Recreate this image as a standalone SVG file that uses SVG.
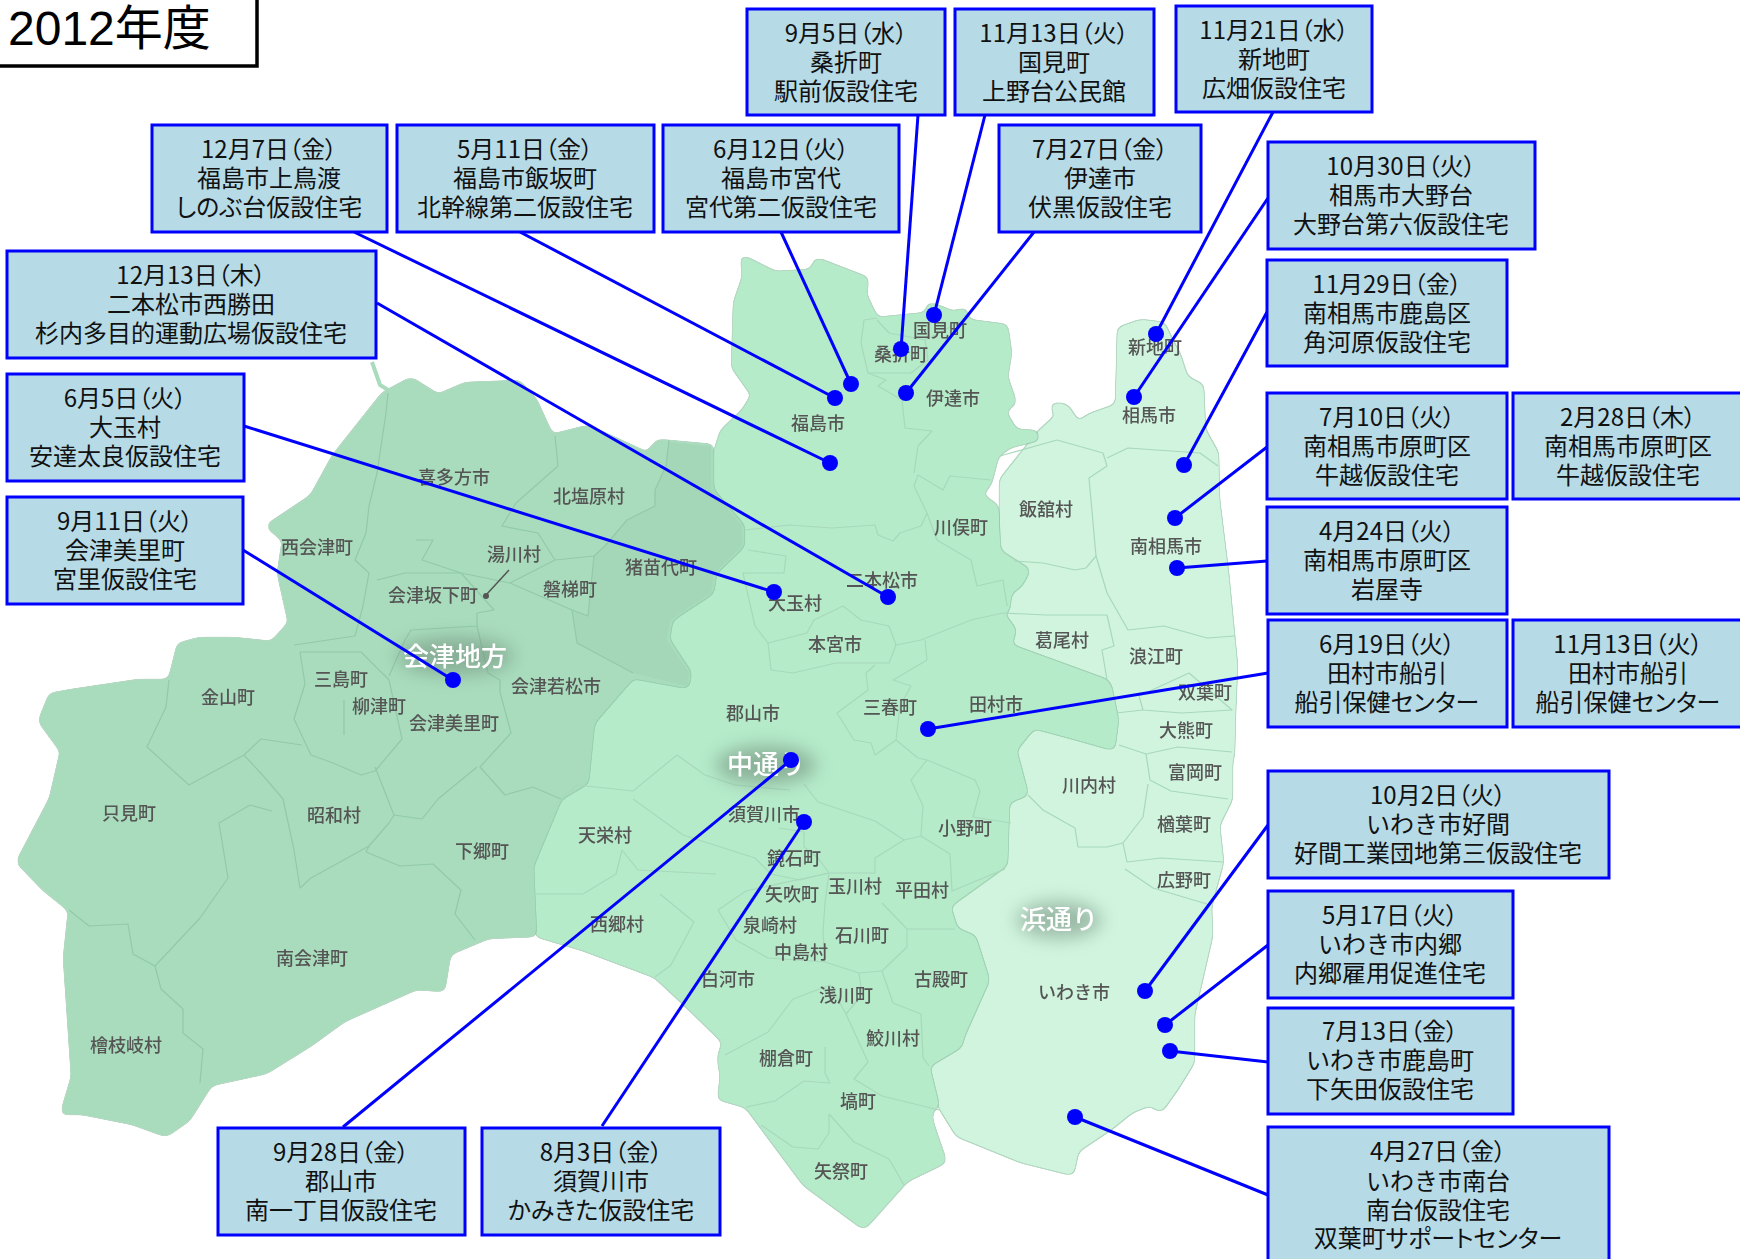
<svg xmlns="http://www.w3.org/2000/svg" width="1740" height="1259" viewBox="0 0 1740 1259">
<style>
text{font-family:"Noto Sans CJK JP","Noto Sans",sans-serif}
.b{fill:#b6dbe7;stroke:#0000ff;stroke-width:3}
.t{font-size:24px;fill:#111;text-anchor:middle}
.d{font-feature-settings:"palt"}
.m{font-size:18px;fill:#555;text-anchor:middle;font-weight:500}
.r{font-size:26px;fill:#fff;text-anchor:middle;font-weight:500}
.i{fill:none;stroke:#92c9a9;stroke-width:1.2;stroke-linejoin:round}
.j{fill:none;stroke:#a8d8bb;stroke-width:1.2;stroke-linejoin:round}
.c{stroke:#0000ff;stroke-width:3;fill:none}
.p{fill:#0000ff}
</style>
<defs>
<filter id="soft" x="-2%" y="-2%" width="104%" height="104%"><feGaussianBlur stdDeviation="0.6"/></filter>
<filter id="glow" x="-40%" y="-80%" width="180%" height="260%"><feGaussianBlur stdDeviation="9"/></filter>
<filter id="goo" x="-3%" y="-3%" width="106%" height="106%" color-interpolation-filters="sRGB">
<feGaussianBlur in="SourceGraphic" stdDeviation="3.5" result="bl"/>
<feColorMatrix in="bl" type="matrix" values="1 0 0 0 0 0 1 0 0 0 0 0 1 0 0 0 0 0 16 -7" result="g"/>
<feMorphology in="g" operator="dilate" radius="1" result="dil"/>
<feFlood flood-color="#8cc4a2" flood-opacity=".65"/>
<feComposite in2="dil" operator="in" result="edge"/>
<feMerge><feMergeNode in="edge"/><feMergeNode in="g"/></feMerge>
</filter>
</defs>
<rect width="1740" height="1259" fill="#fff"/>
<g id="map" filter="url(#soft)">
<polygon id="hamadori" filter="url(#goo)" fill="#d0f4de" points="1039,431 1056,416 1050,405 1059,403 1068,406 1078,422 1090,414 1116,405 1118,328 1141,320 1164,323 1172,340 1180,355 1187,377 1203,385 1205,430 1218,453 1219,500 1228,573 1237,666 1235,713 1234,753 1232,762 1232,799 1219,825 1223,862 1211,906 1212,936 1194,1014 1194,1062 1178,1088 1161,1112 1150,1105 1132,1112 1111,1129 1078,1151 1073,1175 1021,1162 957,1136 939,1107 929,1066 950,900 1000,800 1000,600 1000,480"/>
<polygon id="nakadori" filter="url(#goo)" fill="#b5ebc9" points="711,463 721,431 743,410 752,395 732,367 734,303 743,277 741,255 775,272 811,270 816,258 868,278 866,295 877,318 927,313 927,303 936,305 953,312 966,308 968,320 1007,325 1011,353 1007,377 1016,403 1005,411 1016,430 1037,431 1039,440 1010,447 998,456 991,483 982,495 998,506 1000,551 1030,570 1021,586 1011,593 1009,611 1003,613 1016,630 1011,645 1107,680 1111,686 1118,720 1114,750 1075,739 1034,728 1016,750 1028,795 1009,802 1007,865 950,906 957,929 975,936 989,980 964,1036 961,1047 929,1066 939,1107 932,1110 932,1121 946,1162 907,1181 864,1229 804,1185 746,1107 718,1099 721,1077 718,1058 723,1042 685,1005 655,977 583,950 536,936 533,866 561,799 588,783 594,723 633,678 688,688 691,673 669,640 672,620 713,593 716,573 744,546 744,526 713,490"/>
<polygon id="aizu" filter="url(#goo)" fill="#a8dcbc" points="383,393 411,378 438,395 466,383 519,381 536,400 552,435 588,426 610,436 647,453 658,440 713,445 713,490 744,526 744,546 716,573 713,593 672,620 669,640 691,673 688,688 633,678 594,723 588,783 561,799 533,866 536,936 488,938 450,954 444,991 416,989 344,1021 311,1045 266,1073 211,1085 189,1120 166,1136 133,1124 83,1114 61,1114 72,1077 64,958 69,910 44,890 17,862 50,799 61,751 39,721 50,694 72,690 139,680 169,680 178,644 200,638 233,638 272,642 289,623 278,573 283,540 266,526 311,496 333,456"/>
<polyline points="372,362 380,385 393,393" fill="none" stroke="#a8dcbc" stroke-width="4"/>
<polygon fill="#a4d7b7" points="669,442 711,447 711,490 742,526 742,546 714,573 711,593 670,620 667,640 689,673 687,686 633,673 577,643 572,610 588,616 594,556 605,546 627,520 655,506 655,490 666,466"/>
<g class="i">
<polyline points="388,393 386,413 377,473 369,506 366,533 355,560 369,573 363,606 355,636 294,645"/>
<polyline points="555,436 558,466 516,503 502,526 538,533 555,560 594,556 605,546 627,520 655,506 655,490 666,466 669,440"/>
<polyline points="416,540 433,540 422,560 461,573 510,583 555,560"/>
<polyline points="377,580 405,573 461,573 494,610 477,613 477,626 411,630 405,640 389,676"/>
<polyline points="510,583 572,610 588,616 594,556"/>
<polyline points="572,610 577,643 633,673"/>
<polyline points="477,626 488,673 500,680 500,692 511,733 480,767 505,795 533,787 561,799"/>
<polyline points="300,652 305,684 294,719 311,755 333,763 361,775 375,771 402,739 389,680 361,652 300,652"/>
<polyline points="344,735 344,700"/>
<polyline points="169,680 166,707 147,747 189,785 244,755 261,739 302,745"/>
<polyline points="244,755 266,779 283,799 294,850 300,888 311,878 369,846 389,823 394,815 375,767"/>
<polyline points="272,811 250,805 219,823 228,878 200,918 155,966 161,989 183,1009 183,1033 203,1049 200,1083"/>
<polyline points="69,910 89,926 128,924 133,954 155,966"/>
<polyline points="369,846 366,852 400,866 433,864 461,890 455,914 475,940"/>
<polyline points="394,815 422,819 438,799 477,767"/>
</g>
<g class="j">
<polyline points="745,530 789,525 832,528 875,525 878,535 893,541 900,533 921,526 927,513 914,486 918,475 943,490 950,476 991,480"/>
<polyline points="914,473 918,446 932,431 905,428 902,400 878,386 886,380 868,373 861,343 864,320 877,318"/>
<polyline points="877,320 889,333 925,340 964,320"/>
<polyline points="868,373 911,373 928,360 925,340"/>
<polyline points="927,513 937,540 971,560 977,586 1003,580 1007,606"/>
<polyline points="748,550 786,556 784,573 743,573 755,626 768,643 807,633 814,620 843,606 861,620 889,626 896,645 889,663 836,663 793,673 771,670 768,643"/>
<polyline points="896,645 921,640 971,620 1003,613"/>
<polyline points="875,665 866,673 868,690 837,713 854,740 871,743 875,755 896,740 900,706 911,686 893,680 905,673 927,660 925,640"/>
<polyline points="896,740 918,758 927,760 911,780 923,806 921,836 950,854 952,891 1005,869"/>
<polyline points="927,760 975,780 980,791 973,817 1011,823"/>
<polyline points="804,784 818,802 875,821 904,840 921,836"/>
<polyline points="904,840 875,858 875,873 829,873 818,858 804,847 804,832 779,828"/>
<polyline points="633,791 677,755 705,775 735,785 790,790"/>
<polyline points="633,791 577,785 561,799"/>
<polyline points="633,799 683,835 755,858 771,874 800,880 829,873"/>
<polyline points="533,894 583,894 616,874 622,850 638,870 716,874"/>
<polyline points="660,894 694,922 671,965 655,977"/>
<polyline points="882,903 907,929 955,929"/>
<polyline points="907,929 907,947 882,971 893,1003 921,1014 923,1058 929,1066"/>
<polyline points="829,873 825,903 823,932 825,962 859,973 882,971"/>
<polyline points="859,973 862,995 846,1014 868,1062 854,1079 882,1096 939,1110"/>
<polyline points="793,999 768,1032 725,1055"/>
<polyline points="825,1047 825,1073 830,1083 804,1081 775,1101 746,1107"/>
<polyline points="829,1114 829,1133 818,1149 793,1147 761,1125"/>
<polyline points="829,1114 854,1142 889,1159 904,1185"/>
<polyline points="718,910 746,891 829,873"/>
<polyline points="718,910 736,940 768,958 825,962"/>
<polyline points="793,999 830,985 846,1014"/>
<polyline points="1057,440 1103,453 1107,466 1089,478 1096,556 1086,568 1075,570 1043,563 1014,561"/>
<polyline points="1000,456 1057,440"/>
<polyline points="1107,458 1128,448 1171,451 1200,453 1218,466"/>
<polyline points="1096,556 1107,593 1128,630 1164,626 1207,638 1235,636"/>
<polyline points="1003,613 1046,615 1107,615 1114,646 1102,650 1107,680"/>
<polyline points="1139,696 1143,710 1182,713 1232,710 1189,673 1139,696"/>
<polyline points="1116,713 1143,710"/>
<polyline points="1119,745 1146,754 1178,747 1232,752"/>
<polyline points="1146,754 1150,780 1171,791 1228,799"/>
<polyline points="1148,784 1143,817 1123,843 1127,862"/>
<polyline points="1075,828 1078,847 1107,847 1123,843"/>
<polyline points="1075,828 1043,810 1028,795"/>
<polyline points="1127,862 1161,858 1223,862"/>
<polyline points="1125,869 1153,888 1207,904"/>
</g>
<ellipse cx="455" cy="656" rx="58" ry="19" fill="#6f8c7a" opacity=".55" filter="url(#glow)"/>
<ellipse cx="766" cy="765" rx="50" ry="19" fill="#6f8c7a" opacity=".6" filter="url(#glow)"/>
<ellipse cx="1059" cy="920" rx="42" ry="18" fill="#6f8c7a" opacity=".55" filter="url(#glow)"/>
<polyline points="509,570 486,595" fill="none" stroke="#555" stroke-width="1.5"/>
<circle cx="486" cy="596" r="3" fill="#555"/>
<g class="m">
<text x="940" y="337">国見町</text><text x="901" y="361">桑折町</text><text x="953" y="405">伊達市</text><text x="818" y="430">福島市</text>
<text x="1155" y="354">新地町</text><text x="1149" y="422">相馬市</text><text x="961" y="534">川俣町</text><text x="1046" y="516">飯舘村</text>
<text x="1166" y="553">南相馬市</text><text x="454" y="484">喜多方市</text><text x="589" y="503">北塩原村</text><text x="317" y="554">西会津町</text>
<text x="514" y="561">湯川村</text><text x="433" y="602">会津坂下町</text><text x="570" y="596">磐梯町</text><text x="661" y="574">猪苗代町</text>
<text x="882" y="587">二本松市</text><text x="795" y="610">大玉村</text><text x="835" y="651">本宮市</text><text x="1062" y="647">葛尾村</text>
<text x="1156" y="663">浪江町</text><text x="1205" y="699">双葉町</text><text x="1186" y="737">大熊町</text><text x="996" y="711">田村市</text>
<text x="890" y="714">三春町</text><text x="753" y="720">郡山市</text><text x="341" y="686">三島町</text><text x="228" y="704">金山町</text>
<text x="379" y="713">柳津町</text><text x="454" y="730">会津美里町</text><text x="556" y="693">会津若松市</text><text x="1089" y="792">川内村</text>
<text x="1195" y="779">富岡町</text><text x="1184" y="831">楢葉町</text><text x="1184" y="887">広野町</text><text x="129" y="820">只見町</text>
<text x="334" y="822">昭和村</text><text x="482" y="858">下郷町</text><text x="605" y="842">天栄村</text><text x="764" y="821">須賀川市</text>
<text x="965" y="835">小野町</text><text x="794" y="865">鏡石町</text><text x="792" y="901">矢吹町</text><text x="855" y="893">玉川村</text>
<text x="922" y="897">平田村</text><text x="617" y="931">西郷村</text><text x="770" y="932">泉崎村</text><text x="862" y="942">石川町</text>
<text x="801" y="959">中島村</text><text x="728" y="986">白河市</text><text x="941" y="986">古殿町</text><text x="312" y="965">南会津町</text>
<text x="1074" y="999">いわき市</text><text x="846" y="1002">浅川町</text><text x="893" y="1045">鮫川村</text><text x="126" y="1052">檜枝岐村</text>
<text x="786" y="1065">棚倉町</text><text x="858" y="1108">塙町</text><text x="841" y="1178">矢祭町</text>
</g>
<g class="r">
<text x="455" y="666">会津地方</text><text x="766" y="774">中通り</text><text x="1059" y="929">浜通り</text>
</g>
</g>
<g id="connectors">
<g class="c">
<line x1="918" y1="115" x2="901" y2="349"/><line x1="985" y1="115" x2="934" y2="315"/><line x1="1273" y1="112" x2="1156" y2="334"/>
<line x1="354" y1="232" x2="830" y2="463"/><line x1="520" y1="232" x2="835" y2="398"/><line x1="781" y1="232" x2="851" y2="384"/>
<line x1="1034" y1="232" x2="906" y2="393"/><line x1="1268" y1="198" x2="1134" y2="397"/><line x1="1267" y1="312" x2="1184" y2="465"/>
<line x1="377" y1="303" x2="888" y2="597"/><line x1="244" y1="426" x2="774" y2="592"/><line x1="243" y1="550" x2="453" y2="680"/>
<line x1="1267" y1="447" x2="1175" y2="518"/><line x1="1267" y1="561" x2="1177" y2="568"/><line x1="1268" y1="673" x2="928" y2="729"/>
<line x1="1268" y1="825" x2="1145" y2="991"/><line x1="1268" y1="945" x2="1165" y2="1025"/><line x1="1268" y1="1062" x2="1170" y2="1051"/>
<line x1="1268" y1="1195" x2="1075" y2="1117"/><line x1="343" y1="1127" x2="791" y2="760"/><line x1="602" y1="1126" x2="804" y2="822"/>
</g>
<g class="p">
<circle cx="901" cy="349" r="8"/><circle cx="934" cy="315" r="8"/><circle cx="1156" cy="334" r="8"/><circle cx="830" cy="463" r="8"/>
<circle cx="835" cy="398" r="8"/><circle cx="851" cy="384" r="8"/><circle cx="906" cy="393" r="8"/><circle cx="1134" cy="397" r="8"/>
<circle cx="1184" cy="465" r="8"/><circle cx="888" cy="597" r="8"/><circle cx="774" cy="592" r="8"/><circle cx="453" cy="680" r="8"/>
<circle cx="1175" cy="518" r="8"/><circle cx="1177" cy="568" r="8"/><circle cx="928" cy="729" r="8"/><circle cx="1145" cy="991" r="8"/>
<circle cx="1165" cy="1025" r="8"/><circle cx="1170" cy="1051" r="8"/><circle cx="1075" cy="1117" r="8"/><circle cx="791" cy="760" r="8"/>
<circle cx="804" cy="822" r="8"/>
</g>
</g>
<g id="title"><rect x="-5" y="-5" width="262" height="71" fill="#fff" stroke="#000" stroke-width="3.5"/>
<text x="8" y="45" style="font-family:'Liberation Sans','Noto Sans CJK JP',sans-serif;font-size:48px" fill="#000">2012年度</text></g>
<g id="n0905"><rect class="b" x="747" y="9" width="198" height="106"/><text class="t"><tspan class="d" x="846" y="42">9月5日（水）</tspan><tspan x="846" y="71">桑折町</tspan><tspan x="846" y="100">駅前仮設住宅</tspan></text></g>
<g id="n1113a"><rect class="b" x="955" y="9" width="199" height="106"/><text class="t"><tspan class="d" x="1054" y="42">11月13日（火）</tspan><tspan x="1054" y="71">国見町</tspan><tspan x="1054" y="100">上野台公民館</tspan></text></g>
<g id="n1121"><rect class="b" x="1176" y="6" width="196" height="106"/><text class="t"><tspan class="d" x="1274" y="39">11月21日（水）</tspan><tspan x="1274" y="68">新地町</tspan><tspan x="1274" y="97">広畑仮設住宅</tspan></text></g>
<g id="n1207"><rect class="b" x="152" y="125" width="235" height="107"/><text class="t"><tspan class="d" x="269" y="158">12月7日（金）</tspan><tspan x="269" y="187">福島市上鳥渡</tspan><tspan class="d" x="269" y="216">しのぶ台仮設住宅</tspan></text></g>
<g id="n0511"><rect class="b" x="397" y="125" width="257" height="107"/><text class="t"><tspan class="d" x="525" y="158">5月11日（金）</tspan><tspan x="525" y="187">福島市飯坂町</tspan><tspan x="525" y="216">北幹線第二仮設住宅</tspan></text></g>
<g id="n0612"><rect class="b" x="663" y="125" width="236" height="107"/><text class="t"><tspan class="d" x="781" y="158">6月12日（火）</tspan><tspan x="781" y="187">福島市宮代</tspan><tspan x="781" y="216">宮代第二仮設住宅</tspan></text></g>
<g id="n0727"><rect class="b" x="999" y="125" width="202" height="107"/><text class="t"><tspan class="d" x="1100" y="158">7月27日（金）</tspan><tspan x="1100" y="187">伊達市</tspan><tspan x="1100" y="216">伏黒仮設住宅</tspan></text></g>
<g id="n1030"><rect class="b" x="1268" y="142" width="267" height="107"/><text class="t"><tspan class="d" x="1401" y="175">10月30日（火）</tspan><tspan x="1401" y="204">相馬市大野台</tspan><tspan x="1401" y="233">大野台第六仮設住宅</tspan></text></g>
<g id="n1129"><rect class="b" x="1267" y="260" width="240" height="106"/><text class="t"><tspan class="d" x="1387" y="293">11月29日（金）</tspan><tspan x="1387" y="322">南相馬市鹿島区</tspan><tspan x="1387" y="351">角河原仮設住宅</tspan></text></g>
<g id="n1213"><rect class="b" x="7" y="251" width="369" height="107"/><text class="t"><tspan class="d" x="191" y="284">12月13日（木）</tspan><tspan x="191" y="313">二本松市西勝田</tspan><tspan x="191" y="342">杉内多目的運動広場仮設住宅</tspan></text></g>
<g id="n0605"><rect class="b" x="7" y="374" width="237" height="107"/><text class="t"><tspan class="d" x="125" y="407">6月5日（火）</tspan><tspan x="125" y="436">大玉村</tspan><tspan x="125" y="465">安達太良仮設住宅</tspan></text></g>
<g id="n0911"><rect class="b" x="7" y="497" width="236" height="107"/><text class="t"><tspan class="d" x="125" y="530">9月11日（火）</tspan><tspan x="125" y="559">会津美里町</tspan><tspan x="125" y="588">宮里仮設住宅</tspan></text></g>
<g id="n0710"><rect class="b" x="1267" y="393" width="240" height="106"/><text class="t"><tspan class="d" x="1387" y="426">7月10日（火）</tspan><tspan x="1387" y="455">南相馬市原町区</tspan><tspan x="1387" y="484">牛越仮設住宅</tspan></text></g>
<g id="n0228"><rect class="b" x="1513" y="393" width="232" height="106"/><text class="t"><tspan class="d" x="1628" y="426">2月28日（木）</tspan><tspan x="1628" y="455">南相馬市原町区</tspan><tspan x="1628" y="484">牛越仮設住宅</tspan></text></g>
<g id="n0424"><rect class="b" x="1267" y="507" width="240" height="107"/><text class="t"><tspan class="d" x="1387" y="540">4月24日（火）</tspan><tspan x="1387" y="569">南相馬市原町区</tspan><tspan x="1387" y="598">岩屋寺</tspan></text></g>
<g id="n0619"><rect class="b" x="1268" y="620" width="239" height="107"/><text class="t"><tspan class="d" x="1387" y="653">6月19日（火）</tspan><tspan x="1387" y="682">田村市船引</tspan><tspan class="d" x="1387" y="711">船引保健センター</tspan></text></g>
<g id="n1113b"><rect class="b" x="1513" y="620" width="232" height="107"/><text class="t"><tspan class="d" x="1628" y="653">11月13日（火）</tspan><tspan x="1628" y="682">田村市船引</tspan><tspan class="d" x="1628" y="711">船引保健センター</tspan></text></g>
<g id="n1002"><rect class="b" x="1268" y="771" width="341" height="107"/><text class="t"><tspan class="d" x="1438" y="804">10月2日（火）</tspan><tspan x="1438" y="833">いわき市好間</tspan><tspan x="1438" y="862">好間工業団地第三仮設住宅</tspan></text></g>
<g id="n0517"><rect class="b" x="1268" y="891" width="245" height="107"/><text class="t"><tspan class="d" x="1390" y="924">5月17日（火）</tspan><tspan x="1390" y="953">いわき市内郷</tspan><tspan x="1390" y="982">内郷雇用促進住宅</tspan></text></g>
<g id="n0713"><rect class="b" x="1268" y="1008" width="245" height="106"/><text class="t"><tspan class="d" x="1390" y="1040">7月13日（金）</tspan><tspan x="1390" y="1069">いわき市鹿島町</tspan><tspan x="1390" y="1098">下矢田仮設住宅</tspan></text></g>
<g id="n0427"><rect class="b" x="1268" y="1127" width="341" height="140"/><text class="t"><tspan class="d" x="1438" y="1160">4月27日（金）</tspan><tspan x="1438" y="1190">いわき市南台</tspan><tspan x="1438" y="1219">南台仮設住宅</tspan><tspan class="d" x="1438" y="1247">双葉町サポートセンター</tspan></text></g>
<g id="n0928"><rect class="b" x="218" y="1128" width="247" height="107"/><text class="t"><tspan class="d" x="341" y="1161">9月28日（金）</tspan><tspan x="341" y="1190">郡山市</tspan><tspan x="341" y="1219">南一丁目仮設住宅</tspan></text></g>
<g id="n0803"><rect class="b" x="482" y="1128" width="238" height="107"/><text class="t"><tspan class="d" x="601" y="1161">8月3日（金）</tspan><tspan x="601" y="1190">須賀川市</tspan><tspan class="d" x="601" y="1219">かみきた仮設住宅</tspan></text></g>
</svg>
